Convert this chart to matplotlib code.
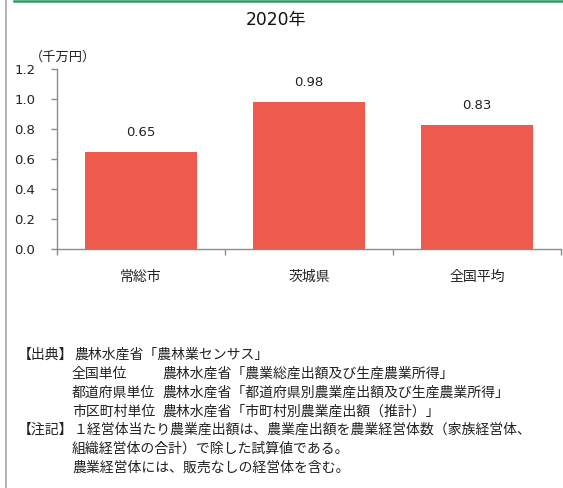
import matplotlib
matplotlib.use("Agg")
import matplotlib.pyplot as plt
from matplotlib.lines import Line2D

plt.rcParams['font.family'] = ['DejaVu Sans', 'Noto Sans CJK JP']

title = "2020年"
unit_label = "（千万円）"
categories = ["常総市", "茨城県", "全国平均"]
values = [0.65, 0.98, 0.83]
value_labels = ["0.65", "0.98", "0.83"]
y_ticks = [0.0, 0.2, 0.4, 0.6, 0.8, 1.0, 1.2]
y_tick_labels = ["0.0", "0.2", "0.4", "0.6", "0.8", "1.0", "1.2"]

notes = [
    ("【出典】", "農林水産省「農林業センサス」", None),
    ("", "全国単位", "農林水産省「農業総産出額及び生産農業所得」"),
    ("", "都道府県単位", "農林水産省「都道府県別農業産出額及び生産農業所得」"),
    ("", "市区町村単位", "農林水産省「市町村別農業産出額（推計）」"),
    ("【注記】", "１経営体当たり農業産出額は、農業産出額を農業経営体数（家族経営体、", None),
    ("", "組織経営体の合計）で除した試算値である。", None),
    ("", "農業経営体には、販売なしの経営体を含む。", None),
]

W, H = 563, 488
fig = plt.figure(figsize=(W / 100, H / 100), dpi=100)
fig.patch.set_facecolor("white")

# plot area in pixel coordinates
x0, x1, y_bottom, y_top = 57, 561, 249, 69
ax = fig.add_axes([x0 / W, 1 - y_bottom / H, (x1 - x0) / W, (y_bottom - y_top) / H])

bar_color = "#EE5A4C"
axis_color = "#8C8C8C"
text_color = "#222222"
pos = list(range(len(categories)))
ax.bar(pos, values, width=0.667, color=bar_color, zorder=2)
for p, v, lab in zip(pos, values, value_labels):
    ax.annotate(lab, (p, v), xytext=(0, 14), textcoords="offset points",
                ha="center", va="center", fontsize=9.5, color=text_color)

ax.set_xlim(-0.5, len(categories) - 0.5)
ax.set_ylim(0, 1.2)
ax.set_yticks(y_ticks)
ax.set_yticklabels(y_tick_labels, fontsize=9.5, color=text_color)
ax.set_xticks(pos)
ax.set_xticklabels(categories, fontsize=10, color=text_color,
                   family=['Noto Sans CJK JP'])
ax.tick_params(axis="x", length=0, pad=15)
ax.set_xticks([p - 0.5 for p in pos] + [len(categories) - 0.5], minor=True)
ax.tick_params(axis="x", which="minor", length=4, color=axis_color, width=1)
ax.tick_params(axis="y", length=4, color=axis_color, width=1, pad=11.5)

for s in ("top", "right"):
    ax.spines[s].set_visible(False)
for s in ("left", "bottom"):
    ax.spines[s].set_color(axis_color)
    ax.spines[s].set_linewidth(1)

fig.text(276 / W, 1 - 20 / H, title, ha="center", va="center",
         fontsize=12.3, color="#111111")
fig.text(63 / W, 1 - 57 / H, unit_label, ha="center", va="center",
         fontsize=9.5, color=text_color, family=['Noto Sans CJK JP'])

# frame lines
fig.add_artist(Line2D([5.5 / W, 5.5 / W], [0, 1], transform=fig.transFigure,
                      color="#A6A6A6", linewidth=1.2))
fig.add_artist(Line2D([13.5 / W, 1], [1 - 1 / H, 1 - 1 / H], transform=fig.transFigure,
                      color="#2F9A65", linewidth=1.8))

# source notes
note_size = 10
line_y = [355, 374, 393, 412, 430, 449, 468]
for (head, body, extra), y in zip(notes, line_y):
    fy = 1 - y / H
    if head:
        fig.text(18 / W, fy, head, ha="left", va="center", fontsize=note_size,
                 color=text_color, family=['Noto Sans CJK JP'])
        fig.text(74 / W, fy, body, ha="left", va="center", fontsize=note_size,
                 color=text_color, family=['Noto Sans CJK JP'])
    else:
        fig.text(72 / W, fy, body, ha="left", va="center", fontsize=note_size,
                 color=text_color, family=['Noto Sans CJK JP'])
    if extra:
        fig.text(162 / W, fy, extra, ha="left", va="center", fontsize=note_size,
                 color=text_color, family=['Noto Sans CJK JP'])

fig.savefig("out.png", dpi=100)
